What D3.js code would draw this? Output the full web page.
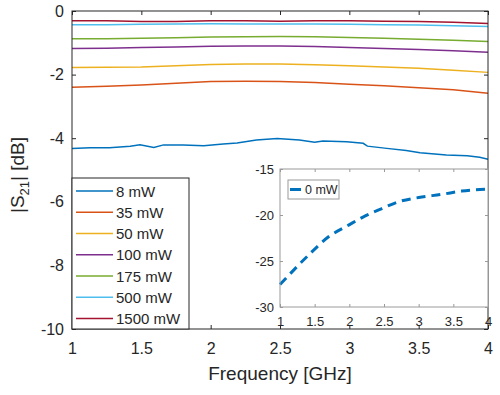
<!DOCTYPE html>
<html>
<head>
<meta charset="utf-8">
<script src="https://cdn.jsdelivr.net/npm/d3@7"></script>
<style>
  body { margin: 0; background: #fff; }
  svg { font-family: "Liberation Sans", Arial, sans-serif; }
  text { fill: #262626; }
</style>
</head>
<body>
<div id="chart"></div>
<script>
// main chart data (|S21| in dB vs frequency in GHz)
const powers = ["8 mW", "35 mW", "50 mW", "100 mW", "175 mW", "500 mW", "1500 mW"];
const colors = ["#0072BD", "#D95319", "#EDB120", "#7E2F8E", "#77AC30", "#4DBEEE", "#A2142F"];

const freq8 = [1.0, 1.13, 1.27, 1.42, 1.49, 1.59, 1.66, 1.80, 1.95, 2.09, 2.19, 2.33, 2.48,
               2.64, 2.75, 2.81, 2.98, 3.10, 3.13, 3.27, 3.41, 3.51, 3.70, 3.85, 3.94, 4.0];
const s8 = [-4.32, -4.30, -4.30, -4.25, -4.21, -4.29, -4.21, -4.21, -4.24, -4.18, -4.15, -4.06, -4.01,
            -4.06, -4.13, -4.09, -4.11, -4.16, -4.25, -4.32, -4.39, -4.46, -4.53, -4.55, -4.60, -4.66];

const freq = [1, 1.25, 1.5, 1.75, 2, 2.25, 2.5, 2.75, 3, 3.25, 3.5, 3.75, 4];
const s35   = [-2.40, -2.37, -2.33, -2.27, -2.22, -2.21, -2.22, -2.25, -2.30, -2.35, -2.41, -2.48, -2.59];
const s50   = [-1.78, -1.77, -1.76, -1.72, -1.68, -1.67, -1.67, -1.69, -1.72, -1.76, -1.80, -1.86, -1.93];
const s100  = [-1.18, -1.17, -1.15, -1.13, -1.11, -1.10, -1.10, -1.12, -1.15, -1.18, -1.21, -1.25, -1.30];
const s175  = [-0.87, -0.87, -0.86, -0.84, -0.82, -0.81, -0.80, -0.81, -0.83, -0.86, -0.89, -0.92, -0.96];
const s500  = [-0.43, -0.43, -0.42, -0.41, -0.40, -0.41, -0.41, -0.41, -0.42, -0.43, -0.44, -0.46, -0.49];
const s1500 = [-0.31, -0.31, -0.33, -0.33, -0.31, -0.31, -0.32, -0.31, -0.31, -0.32, -0.33, -0.35, -0.39];

// inset data (0 mW)
const freq0 = [1.0, 1.41, 1.70, 1.99, 2.23, 2.47, 2.71, 3.0, 3.34, 3.62, 4.0];
const s0 = [-27.56, -24.37, -22.37, -21.1, -20.1, -19.3, -18.56, -18.1, -17.75, -17.4, -17.2];

const xTicks = [1, 1.5, 2, 2.5, 3, 3.5, 4];
const yTicks = [0, -2, -4, -6, -8, -10];
const yTicksInset = [-15, -20, -25, -30];

const series = [
  { x: freq8, y: s8 },
  { x: freq, y: s35 },
  { x: freq, y: s50 },
  { x: freq, y: s100 },
  { x: freq, y: s175 },
  { x: freq, y: s500 },
  { x: freq, y: s1500 }
];

const width = 500, height = 395;
const axisColor = "#262626";

const svg = d3.select("#chart")
    .append("svg")
    .attr("width", width)
    .attr("height", height);

// Main axes
const m = { left: 72, right: 488, top: 11, bottom: 329 };
const x = d3.scaleLinear().domain([1, 4]).range([m.left, m.right]);
const y = d3.scaleLinear().domain([-10, 0]).range([m.bottom, m.top]);

const fmt = d => String(d).replace("-", "-");

function styleAxis(g, color) {
    g.select(".domain").remove();
    g.selectAll(".tick line").attr("stroke", color);
    g.selectAll(".tick text").attr("fill", axisColor);
}

svg.append("g")
    .attr("transform", `translate(0,${m.bottom})`)
    .call(d3.axisBottom(x).tickValues(xTicks).tickFormat(fmt).tickSizeInner(-4).tickSizeOuter(0).tickPadding(14))
    .call(g => styleAxis(g, axisColor))
    .selectAll("text").attr("font-size", "16px");

svg.append("g")
    .attr("transform", `translate(0,${m.top})`)
    .call(d3.axisTop(x).tickValues(xTicks).tickFormat("").tickSizeInner(-4).tickSizeOuter(0))
    .call(g => styleAxis(g, axisColor));

svg.append("g")
    .attr("transform", `translate(${m.left},0)`)
    .call(d3.axisLeft(y).tickValues(yTicks).tickFormat(fmt).tickSizeInner(-4).tickSizeOuter(0).tickPadding(8))
    .call(g => styleAxis(g, axisColor))
    .selectAll("text").attr("font-size", "16px");

svg.append("g")
    .attr("transform", `translate(${m.right},0)`)
    .call(d3.axisRight(y).tickValues(yTicks).tickFormat("").tickSizeInner(-4).tickSizeOuter(0))
    .call(g => styleAxis(g, axisColor));

// Lines
const line = d3.line();
series.forEach((s, i) => {
    const pts = s.x.map((f, j) => [x(f), y(s.y[j])]);
    svg.append("path")
        .attr("d", line(pts))
        .attr("fill", "none")
        .attr("stroke", colors[i])
        .attr("stroke-width", 1.5);
});

svg.append("rect")
    .attr("x", m.left).attr("y", m.top)
    .attr("width", m.right - m.left).attr("height", m.bottom - m.top)
    .attr("fill", "none").attr("stroke", axisColor).attr("stroke-width", 1);

// Axis labels
svg.append("text")
    .attr("x", (m.left + m.right) / 2)
    .attr("y", 380)
    .attr("text-anchor", "middle")
    .attr("font-size", "19px")
    .text("Frequency [GHz]");

const yl = svg.append("text")
    .attr("transform", `translate(24,${(m.top + m.bottom) / 2 + 5}) rotate(-90)`)
    .attr("text-anchor", "middle")
    .attr("font-size", "19px");
yl.append("tspan").text("|S");
yl.append("tspan").attr("font-size", "13px").attr("dy", 5).text("21");
yl.append("tspan").attr("dy", -5).text("| [dB]");

// Main legend
const lg = { x: 72, y: 178, w: 117, h: 151 };
svg.append("rect")
    .attr("x", lg.x).attr("y", lg.y).attr("width", lg.w).attr("height", lg.h)
    .attr("fill", "#fff").attr("stroke", axisColor).attr("stroke-width", 1);

const rowY = d3.scaleLinear().domain([0, 6]).range([191, 318.5]);
powers.forEach((p, i) => {
    svg.append("line")
        .attr("x1", 76).attr("x2", 113)
        .attr("y1", rowY(i)).attr("y2", rowY(i))
        .attr("stroke", colors[i]).attr("stroke-width", 1.5);
    svg.append("text")
        .attr("x", 116).attr("y", rowY(i) + 5.5)
        .attr("font-size", "15px")
        .text(p);
});

// Inset axes
const n = { left: 280, right: 488, top: 169, bottom: 307 };
const insetColor = "#9a9a9a";
const xi = d3.scaleLinear().domain([1, 4]).range([n.left, n.right]);
const yi = d3.scaleLinear().domain([-30, -15]).range([n.bottom, n.top]);

svg.append("rect")
    .attr("x", n.left).attr("y", n.top)
    .attr("width", n.right - n.left).attr("height", n.bottom - n.top)
    .attr("fill", "#fff");

svg.append("g")
    .attr("transform", `translate(0,${n.bottom})`)
    .call(d3.axisBottom(xi).tickValues(xTicks).tickFormat(fmt).tickSizeInner(-3).tickSizeOuter(0).tickPadding(10))
    .call(g => styleAxis(g, insetColor))
    .selectAll("text").attr("font-size", "13px");

svg.append("g")
    .attr("transform", `translate(0,${n.top})`)
    .call(d3.axisTop(xi).tickValues(xTicks).tickFormat("").tickSizeInner(-3).tickSizeOuter(0))
    .call(g => styleAxis(g, insetColor));

svg.append("g")
    .attr("transform", `translate(${n.left},0)`)
    .call(d3.axisLeft(yi).tickValues(yTicksInset).tickFormat(fmt).tickSizeInner(-3).tickSizeOuter(0).tickPadding(6))
    .call(g => styleAxis(g, insetColor))
    .selectAll("text").attr("font-size", "13px");

svg.append("g")
    .attr("transform", `translate(${n.right},0)`)
    .call(d3.axisRight(yi).tickValues(yTicksInset).tickFormat("").tickSizeInner(-3).tickSizeOuter(0))
    .call(g => styleAxis(g, insetColor));

const insetLine = d3.line().curve(d3.curveMonotoneX);
svg.append("path")
    .attr("d", insetLine(freq0.map((f, j) => [xi(f), yi(s0[j])])))
    .attr("fill", "none")
    .attr("stroke", colors[0])
    .attr("stroke-width", 3)
    .attr("stroke-dasharray", "9,6");

svg.append("rect")
    .attr("x", n.left).attr("y", n.top)
    .attr("width", n.right - n.left).attr("height", n.bottom - n.top)
    .attr("fill", "none").attr("stroke", insetColor).attr("stroke-width", 1);

// Inset legend
svg.append("rect")
    .attr("x", 288).attr("y", 180).attr("width", 51).attr("height", 19)
    .attr("fill", "#fff").attr("stroke", insetColor).attr("stroke-width", 1);
svg.append("line")
    .attr("x1", 290).attr("x2", 301)
    .attr("y1", 189.5).attr("y2", 189.5)
    .attr("stroke", colors[0]).attr("stroke-width", 3);
svg.append("text")
    .attr("x", 305).attr("y", 194)
    .attr("font-size", "12.5px")
    .text("0 mW");
</script>
</body>
</html>
